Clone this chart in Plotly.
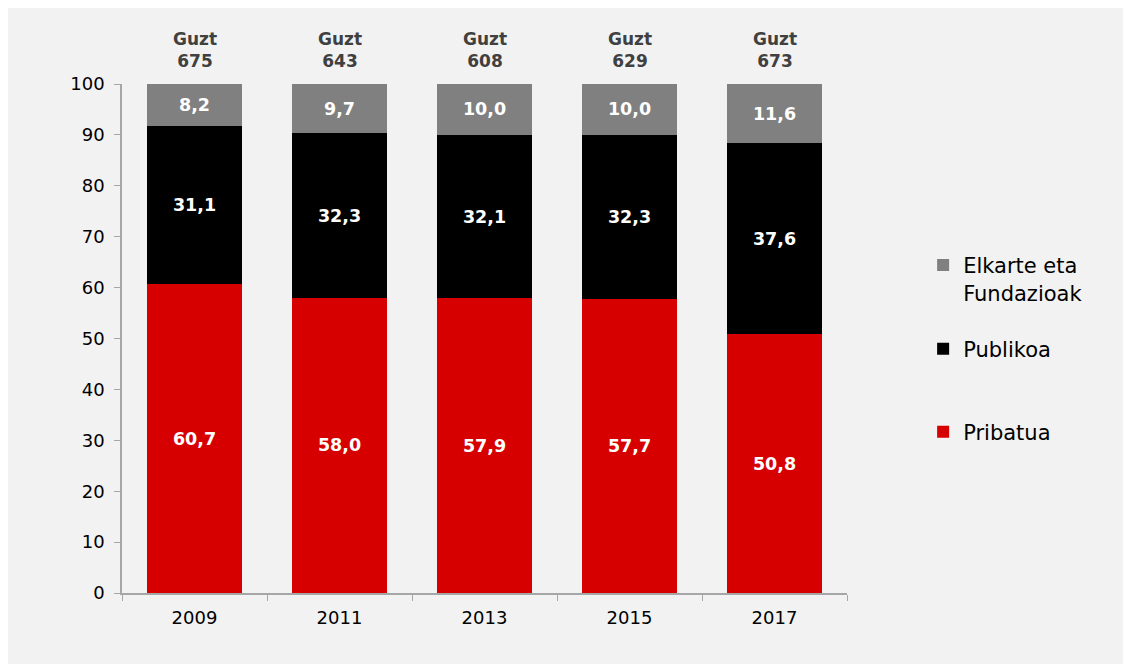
import plotly.graph_objects as go

years = ["2009", "2011", "2013", "2015", "2017"]
pribatua = [60.7, 58.0, 57.9, 57.7, 50.8]
publikoa = [31.1, 32.3, 32.1, 32.3, 37.6]
elkarte = [8.2, 9.7, 10.0, 10.0, 11.6]
totals = [675, 643, 608, 629, 673]
y_ticks = [0, 10, 20, 30, 40, 50, 60, 70, 80, 90, 100]

series = [
    ("Pribatua", pribatua, "#d70000", "legend3"),
    ("Publikoa", publikoa, "#000000", "legend2"),
    ("Elkarte eta<br>Fundazioak", elkarte, "#808080", "legend"),
]

FONT = "DejaVu Sans"
fig = go.Figure()
for name, vals, col, leg in series:
    fig.add_trace(go.Bar(
        x=years, y=vals, name=name, legend=leg,
        marker=dict(color=col, line=dict(width=0)),
        texttemplate="%{y:.1f}", textposition="inside",
        insidetextanchor="middle",
        textfont=dict(family=FONT, size=17.5, color="white", weight="bold"),
        hoverinfo="skip",
    ))

for i, t in enumerate(totals):
    fig.add_annotation(
        x=i, y=100, xref="x", yref="y", yanchor="bottom", yshift=11,
        text=f"<b>Guzt<br>{t}</b>", showarrow=False,
        font=dict(family=FONT, size=17, color="#404040"),
    )

leg_common = dict(
    x=1.105, xanchor="left", yanchor="middle", valign="top",
    font=dict(family=FONT, size=21, color="#000000"),
    bgcolor="rgba(0,0,0,0)", itemwidth=30,
)

fig.update_layout(
    width=1140, height=664,
    margin=dict(l=114, r=301, t=76, b=79),
    barmode="stack", bargap=0.34,
    separators=",.",
    paper_bgcolor="#f2f2f2", plot_bgcolor="#f2f2f2",
    font=dict(family=FONT, size=18, color="#000000"),
    showlegend=True,
    legend=dict(y=0.617, **leg_common),
    legend2=dict(y=0.479, **leg_common),
    legend3=dict(y=0.316, **leg_common),
    xaxis=dict(
        type="category", range=[-0.5, 4.5], showline=True,
        linecolor="#a6a6a6", linewidth=1.5,
        ticks="outside", tickson="boundaries", ticklen=6, tickcolor="#a6a6a6",
        showgrid=False, tickfont=dict(size=18), ticklabelstandoff=8,
    ),
    yaxis=dict(
        range=[0, 100], tickvals=y_ticks, showline=True, linecolor="#a6a6a6",
        linewidth=1.5, ticks="outside", ticklen=6, tickcolor="#a6a6a6",
        showgrid=False, zeroline=False, tickfont=dict(size=18),
        ticklabelstandoff=6,
    ),
)

fig.write_html("out.html")
